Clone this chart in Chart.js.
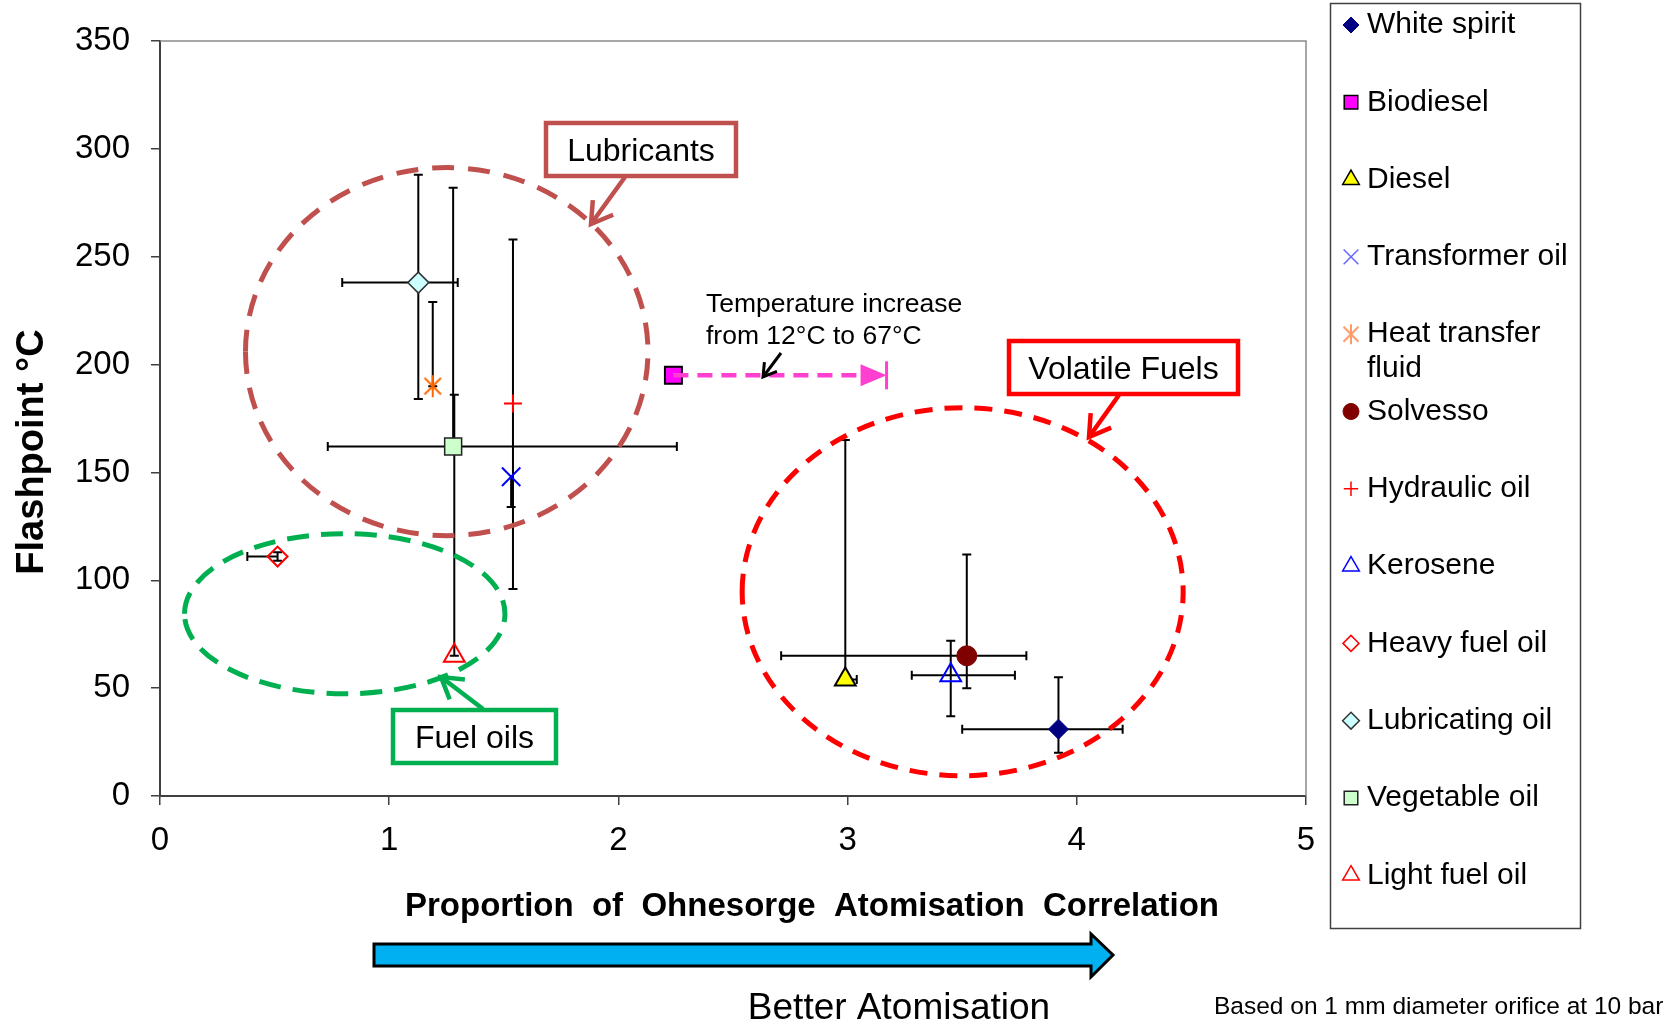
<!DOCTYPE html>
<html>
<head>
<meta charset="utf-8">
<script src="https://cdn.jsdelivr.net/npm/chart.js@4.4.1/dist/chart.umd.min.js"></script>
<style>
  html, body { margin: 0; padding: 0; background: #fff; }
  #wrap { width: 1674px; height: 1024px; }
</style>
</head>
<body>
<div id="wrap"><canvas id="flashChart" width="1674" height="1024"></canvas></div>
<script>
// fuels, in legend order
const fuelNames = ['White spirit', 'Biodiesel', 'Diesel', 'Transformer oil', 'Heat transfer fluid', 'Solvesso',
  'Hydraulic oil', 'Kerosene', 'Heavy fuel oil', 'Lubricating oil', 'Vegetable oil', 'Light fuel oil'];

// proportion of Ohnesorge atomisation correlation (mean, low, high)
const ohnesorge     = [3.92, 2.24, 2.99, 1.532, 1.19, 3.52, 1.54, 3.45, 0.513, 1.127, 1.279, 1.284];
const ohnesorgeLow  = [3.50, null, 2.975, null, null, 2.71, null, 3.28, 0.381, 0.795, 0.732, null];
const ohnesorgeHigh = [4.20, null, 3.04, null, null, 3.78, null, 3.73, 0.513, 1.299, 2.255, null];

// flashpoint in deg C (mean, low, high)
const flashpoint = [31, 195, 54, 148, 190, 65, 182, 56, 111, 238, 162, 65];
const flashLow   = [20, null, null, 134, 190, 50, 96, 37, 109, 184, null, 65];
const flashHigh  = [55, null, 165, null, 229, 112, 258, 72, 113, 288, 282, 186];

// biodiesel heated from 12 to 67 degC
const biodieselHeated = 3.17;

const xTicks = [0, 1, 2, 3, 4, 5];
const yTicks = [0, 50, 100, 150, 200, 250, 300, 350];

// marker look per fuel
function asterisk(r, color) {
  const c = document.createElement('canvas');
  c.width = c.height = r * 2 + 4;
  const g = c.getContext('2d');
  const m = r + 2, d = r * 0.75;
  g.strokeStyle = color;
  g.lineWidth = 2;
  g.beginPath();
  g.moveTo(m, m - r); g.lineTo(m, m + r);
  g.moveTo(m - d, m - d); g.lineTo(m + d, m + d);
  g.moveTo(m + d, m - d); g.lineTo(m - d, m + d);
  g.stroke();
  return c;
}
const clear = 'rgba(0,0,0,0)';
const markerStyle = [
  { style: 'rectRot', r: 10, bg: '#000080', line: '#000080', w: 1 },
  { style: 'rect', r: 12, bg: '#FF00FF', line: '#000', w: 2 },
  { style: 'triangle', r: 12, bg: '#FFFF00', line: '#000', w: 2 },
  { style: 'crossRot', r: 13, bg: clear, line: '#0000FF', w: 2 },
  { style: asterisk(11, '#FF6600'), legend: asterisk(10, '#FF9966'), r: 11, bg: clear, line: '#FF6600', w: 2 },
  { style: 'circle', r: 10, bg: '#800000', line: '#800000', w: 1 },
  { style: 'cross', r: 9, bg: clear, line: '#FF0000', w: 2 },
  { style: 'triangle', r: 12, bg: clear, line: '#0000FF', w: 2 },
  { style: 'rectRot', r: 10, bg: clear, line: '#FF0000', w: 2 },
  { style: 'rectRot', r: 10.5, bg: '#CCFFFF', line: '#333', w: 1.5 },
  { style: 'rect', r: 12, bg: '#CCFFCC', line: '#222', w: 1.5 },
  { style: 'triangle', r: 12, bg: clear, line: '#FF0000', w: 2 }
];

const datasets = fuelNames.map((name, i) => ({
  label: name,
  data: [{ x: ohnesorge[i], y: flashpoint[i] }],
  pointStyle: markerStyle[i].style,
  pointRadius: markerStyle[i].r,
  pointBackgroundColor: markerStyle[i].bg,
  pointBorderColor: markerStyle[i].line,
  pointBorderWidth: markerStyle[i].w,
  showLine: false
}));

const FONT = '"Liberation Sans", Arial, sans-serif';

function openHead(ctx, x1, y1, x2, y2, len, spread) {
  const a = Math.atan2(y2 - y1, x2 - x1);
  ctx.beginPath();
  ctx.moveTo(x2 - len * Math.cos(a - spread), y2 - len * Math.sin(a - spread));
  ctx.lineTo(x2, y2);
  ctx.lineTo(x2 - len * Math.cos(a + spread), y2 - len * Math.sin(a + spread));
  ctx.stroke();
}

function arrowLine(ctx, x1, y1, x2, y2, color, width, len) {
  ctx.save();
  ctx.strokeStyle = color;
  ctx.lineWidth = width;
  ctx.lineCap = 'butt';
  ctx.lineJoin = 'miter';
  ctx.beginPath();
  ctx.moveTo(x1, y1);
  ctx.lineTo(x2, y2);
  ctx.stroke();
  openHead(ctx, x1, y1, x2, y2, len, 0.55);
  ctx.restore();
}

function labelBox(ctx, text, left, top, right, bottom, color) {
  ctx.save();
  ctx.fillStyle = '#fff';
  ctx.fillRect(left, top, right - left, bottom - top);
  ctx.strokeStyle = color;
  ctx.lineWidth = 4.5;
  ctx.strokeRect(left, top, right - left, bottom - top);
  ctx.fillStyle = '#000';
  ctx.font = '32px ' + FONT;
  ctx.textAlign = 'center';
  ctx.textBaseline = 'middle';
  ctx.fillText(text, (left + right) / 2, (top + bottom) / 2 + 3);
  ctx.restore();
}

// dashed rings grouping the fuel families, in data units
const groupRings = [
  { cx: 1.251, cy: 206, rx: 0.878, ry: 85.3, color: '#C0504D', dash: [22, 14] },
  { cx: 0.806, cy: 84.5, rx: 0.699, ry: 37.1, color: '#00B050', dash: [22, 12] },
  { cx: 3.502, cy: 94.7, rx: 0.962, ry: 85.3, color: '#FF0000', dash: [18, 12] }
];

const errorBars = {
  id: 'errorBars',
  beforeDatasetsDraw(chart) {
    const { ctx, chartArea: a, scales: { x, y } } = chart;
    ctx.save();
    // plot frame, top and right sides
    ctx.strokeStyle = '#8a8a8a';
    ctx.lineWidth = 1.5;
    ctx.beginPath();
    ctx.moveTo(a.left, a.top);
    ctx.lineTo(a.right, a.top);
    ctx.lineTo(a.right, a.bottom);
    ctx.stroke();

    ctx.strokeStyle = '#000';
    ctx.lineWidth = 2;
    const cap = 4.5;
    fuelNames.forEach((n, i) => {
      const px = x.getPixelForValue(ohnesorge[i]);
      const py = y.getPixelForValue(flashpoint[i]);
      ctx.beginPath();
      [ohnesorgeLow[i], ohnesorgeHigh[i]].forEach(v => {
        if (v === null) return;
        const ex = x.getPixelForValue(v);
        ctx.moveTo(px, py); ctx.lineTo(ex, py);
        ctx.moveTo(ex, py - cap); ctx.lineTo(ex, py + cap);
      });
      [flashLow[i], flashHigh[i]].forEach(v => {
        if (v === null) return;
        const ey = y.getPixelForValue(v);
        ctx.moveTo(px, py); ctx.lineTo(px, ey);
        ctx.moveTo(px - cap, ey); ctx.lineTo(px + cap, ey);
      });
      ctx.stroke();
    });
    ctx.restore();
  },
  afterDatasetsDraw(chart) {
    const { ctx, scales: { x, y } } = chart;
    const ux = x.getPixelForValue(1) - x.getPixelForValue(0);
    const uy = y.getPixelForValue(0) - y.getPixelForValue(1);

    ctx.save();
    groupRings.forEach(g => {
      ctx.strokeStyle = g.color;
      ctx.lineWidth = 5;
      ctx.setLineDash(g.dash);
      ctx.beginPath();
      ctx.ellipse(x.getPixelForValue(g.cx), y.getPixelForValue(g.cy), g.rx * ux, g.ry * uy, 0, Math.PI, 3 * Math.PI);
      ctx.stroke();
    });
    ctx.setLineDash([]);
    ctx.restore();

    // biodiesel heating shift
    const bx = x.getPixelForValue(ohnesorge[1]);
    const by = y.getPixelForValue(flashpoint[1]);
    const hx = x.getPixelForValue(biodieselHeated);
    ctx.save();
    ctx.strokeStyle = '#FF3FD0';
    ctx.fillStyle = '#FF3FD0';
    ctx.lineWidth = 4.5;
    ctx.setLineDash([15, 9]);
    ctx.beginPath();
    ctx.moveTo(bx, by); ctx.lineTo(hx - 22, by);
    ctx.stroke();
    ctx.setLineDash([]);
    ctx.beginPath();
    ctx.moveTo(hx - 26, by - 11); ctx.lineTo(hx, by); ctx.lineTo(hx - 26, by + 11);
    ctx.closePath();
    ctx.fill();
    ctx.lineWidth = 3;
    ctx.beginPath();
    ctx.moveTo(hx, by - 14); ctx.lineTo(hx, by + 14);
    ctx.stroke();
    ctx.restore();

    ctx.save();
    ctx.fillStyle = '#000';
    ctx.font = '26.5px ' + FONT;
    ctx.textBaseline = 'middle';
    ctx.fillText('Temperature increase', 706, 305);
    ctx.fillText('from 12°C to 67°C', 706, 337);
    ctx.restore();
    arrowLine(ctx, 781, 353, 763, 377, '#000', 3, 15);

    labelBox(ctx, 'Lubricants', 546, 123, 736, 176, '#C0504D');
    arrowLine(ctx, 625, 177, 591, 224, '#C0504D', 4.5, 24);
    labelBox(ctx, 'Volatile Fuels', 1009, 341, 1238, 394, '#FF0000');
    arrowLine(ctx, 1119, 395, 1089, 437, '#FF0000', 4.5, 24);
    labelBox(ctx, 'Fuel oils', 393, 710, 556, 763, '#00B050');
    arrowLine(ctx, 483, 709, 441, 677, '#00B050', 4.5, 24);
  }
};

const pageText = {
  id: 'pageText',
  afterDraw(chart) {
    const { ctx } = chart;
    ctx.save();
    ctx.fillStyle = '#000';
    ctx.textAlign = 'center';
    ctx.textBaseline = 'middle';

    ctx.font = 'bold 33px ' + FONT;
    ctx.fillText('Proportion  of  Ohnesorge  Atomisation  Correlation', 812, 907);

    ctx.save();
    ctx.translate(33, 452);
    ctx.rotate(-Math.PI / 2);
    ctx.font = 'bold 38px ' + FONT;
    ctx.fillText('Flashpoint °C', 0, 0);
    ctx.restore();

    // direction arrow under the x axis
    ctx.fillStyle = '#00B0F0';
    ctx.strokeStyle = '#000';
    ctx.lineWidth = 3;
    ctx.lineJoin = 'miter';
    ctx.beginPath();
    ctx.moveTo(374, 944);
    ctx.lineTo(1091, 944);
    ctx.lineTo(1091, 934);
    ctx.lineTo(1113, 955);
    ctx.lineTo(1091, 977);
    ctx.lineTo(1091, 966);
    ctx.lineTo(374, 966);
    ctx.closePath();
    ctx.fill();
    ctx.stroke();

    ctx.fillStyle = '#000';
    ctx.font = '37px ' + FONT;
    ctx.fillText('Better Atomisation', 899, 1009);

    ctx.textAlign = 'left';
    ctx.font = '24.5px ' + FONT;
    ctx.fillText('Based on 1 mm diameter orifice at 10 bar', 1214, 1007);

    // legend
    ctx.strokeStyle = '#404040';
    ctx.lineWidth = 1.5;
    ctx.strokeRect(1330.5, 3.5, 250, 925);
    ctx.font = '30px ' + FONT;
    ctx.textAlign = 'left';
    const rowY = i => 25 + i * 77.3;
    fuelNames.forEach((name, i) => {
      const m = markerStyle[i];
      const cy = rowY(i);
      ctx.save();
      ctx.fillStyle = m.bg;
      ctx.strokeStyle = i === 3 ? '#6666FF' : m.line;
      ctx.lineWidth = Math.min(m.w, 1.5);
      Chart.helpers.drawPoint(ctx, {
        pointStyle: m.legend || m.style,
        radius: m.r * 0.8,
        rotation: 0,
        borderWidth: 1
      }, 1351, cy);
      ctx.restore();
      ctx.fillStyle = '#000';
      if (name === 'Heat transfer fluid') {
        ctx.fillText('Heat transfer', 1367, cy);
        ctx.fillText('fluid', 1367, cy + 35);
      } else {
        ctx.fillText(name, 1367, cy);
      }
    });
    ctx.restore();
  }
};

new Chart(document.getElementById('flashChart'), {
  type: 'scatter',
  data: { datasets },
  options: {
    responsive: false,
    animation: false,
    devicePixelRatio: 1,
    layout: { padding: { top: 41, right: 368, left: 0, bottom: 0 } },
    plugins: { legend: { display: false }, tooltip: { enabled: false } },
    scales: {
      x: {
        type: 'linear',
        min: xTicks[0],
        max: xTicks[xTicks.length - 1],
        afterBuildTicks: s => { s.ticks = xTicks.map(v => ({ value: v })); },
        afterFit: s => { s.height = 228; },
        ticks: { color: '#000', font: { family: FONT, size: 33 }, padding: 16, maxRotation: 0 },
        grid: { drawOnChartArea: false, tickLength: 9, tickColor: '#404040', lineWidth: 1.5 },
        border: { color: '#404040', width: 2 }
      },
      y: {
        type: 'linear',
        min: yTicks[0],
        max: yTicks[yTicks.length - 1],
        afterBuildTicks: s => { s.ticks = yTicks.map(v => ({ value: v })); },
        afterFit: s => { s.width = 160; },
        ticks: { color: '#000', font: { family: FONT, size: 33 }, padding: 21 },
        grid: { drawOnChartArea: false, tickLength: 9, tickColor: '#404040', lineWidth: 1.5 },
        border: { color: '#404040', width: 2 }
      }
    }
  },
  plugins: [errorBars, pageText]
});
</script>
</body>
</html>
